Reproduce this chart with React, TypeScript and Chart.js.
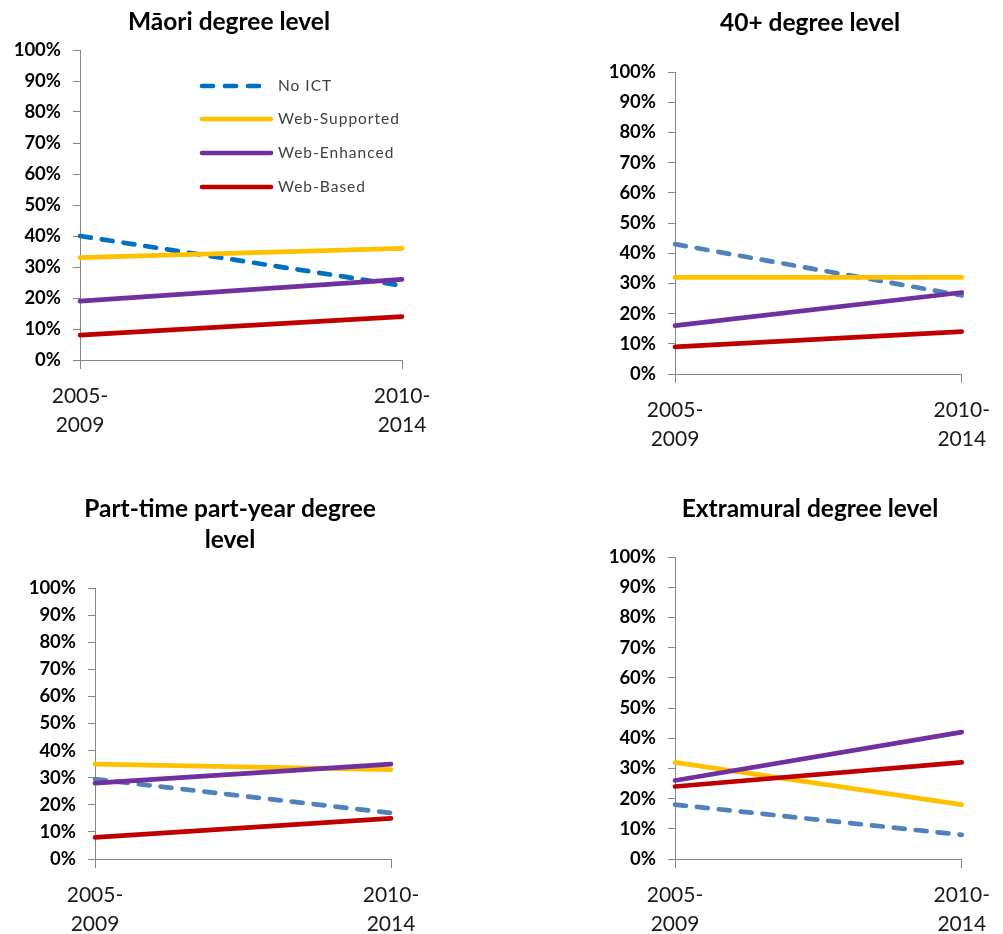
import React, { useEffect, useRef } from "react";
import { Chart, registerables } from "chart.js";

Chart.register(...registerables);

// ---------- data ----------
const categories: string[][] = [["2005-", "2009"], ["2010-", "2014"]];
const seriesNames = ["No ICT", "Web-Supported", "Web-Enhanced", "Web-Based"];
const yTickMin = 0;
const yTickMax = 100;
const yTickStep = 10;

const maoriNoICT = [40, 24];
const maoriWebSupported = [33, 36];
const maoriWebEnhanced = [19, 26];
const maoriWebBased = [8, 14];

const over40NoICT = [43, 26];
const over40WebSupported = [32, 32];
const over40WebEnhanced = [16, 27];
const over40WebBased = [9, 14];

const partTimeNoICT = [29.5, 17];
const partTimeWebSupported = [35, 33];
const partTimeWebEnhanced = [28, 35];
const partTimeWebBased = [8, 15];

const extramuralNoICT = [18, 8];
const extramuralWebSupported = [32, 18];
const extramuralWebEnhanced = [26, 42];
const extramuralWebBased = [24, 32];

const titleMaori = ["Māori degree level"];
const titleOver40 = ["40+ degree level"];
const titlePartTime = ["Part-time part-year degree", "level"];
const titleExtramural = ["Extramural degree level"];

// ---------- styles / layout ----------
const FONT = "Lato, Carlito, 'Open Sans', sans-serif";
const seriesColors = ["#4F81BD", "#FFC000", "#7030A0", "#C00000"];
const axisColor = "#868686";

type Panel = {
  title: string[];
  values: number[][];
  noIctColor: string;
  canvas: { x: number; y: number; w: number; h: number };
  plot: { l: number; t: number; r: number; b: number };
  titleCenter: { x: number; y: number };
  legend?: { x1: number; x2: number; tx: number; ys: number[] };
};

const panels: Panel[] = [
  {
    title: titleMaori,
    values: [maoriNoICT, maoriWebSupported, maoriWebEnhanced, maoriWebBased],
    noIctColor: "#0070C0",
    canvas: { x: 0, y: 0, w: 460, h: 465 },
    plot: { l: 80, t: 50, r: 402, b: 360 },
    titleCenter: { x: 229, y: 22 },
    legend: { x1: 202, x2: 271, tx: 278, ys: [86, 119, 153, 187] },
  },
  {
    title: titleOver40,
    values: [over40NoICT, over40WebSupported, over40WebEnhanced, over40WebBased],
    noIctColor: "#4F81BD",
    canvas: { x: 560, y: 0, w: 443, h: 465 },
    plot: { l: 675, t: 72, r: 972, b: 374 },
    titleCenter: { x: 810, y: 23 },
  },
  {
    title: titlePartTime,
    values: [partTimeNoICT, partTimeWebSupported, partTimeWebEnhanced, partTimeWebBased],
    noIctColor: "#4F81BD",
    canvas: { x: 0, y: 470, w: 460, h: 490 },
    plot: { l: 95, t: 588, r: 391, b: 859 },
    titleCenter: { x: 230, y: 525 },
  },
  {
    title: titleExtramural,
    values: [extramuralNoICT, extramuralWebSupported, extramuralWebEnhanced, extramuralWebBased],
    noIctColor: "#4F81BD",
    canvas: { x: 560, y: 470, w: 443, h: 490 },
    plot: { l: 675, t: 557, r: 971, b: 859 },
    titleCenter: { x: 810, y: 509 },
  },
];

const TITLE_SIZE = 24.5;
const TITLE_LH = 31;
const X_AXIS_H = 80;
const Y_AXIS_W = 78;

function ChartPanel({ panel }: { panel: Panel }) {
  const ref = useRef<HTMLCanvasElement | null>(null);

  useEffect(() => {
    if (!ref.current) return;
    const { canvas, plot, titleCenter } = panel;
    const L = plot.l - canvas.x;
    const R = plot.r - canvas.x;
    const T = plot.t - canvas.y;
    const B = plot.b - canvas.y;
    const padLeft = L - Y_AXIS_W;
    const padRight = canvas.w - R;
    const padBottom = canvas.h - B - X_AXIS_H;

    const colors = [panel.noIctColor, ...seriesColors.slice(1)];

    const datasets = seriesNames.map((name, i) => ({
      label: name,
      data: panel.values[i],
      borderColor: colors[i],
      backgroundColor: colors[i],
      borderWidth: 4.7,
      borderDash: i === 0 ? [11, 11] : [],
      borderCapStyle: "round" as const,
      pointRadius: 0,
      pointHoverRadius: 0,
      tension: 0,
      fill: false,
      clip: false as const,
      order: 4 - i,
    }));

    const titlePlugin = {
      id: "panelTitle",
      afterDraw(chart: any) {
        const ctx = chart.ctx;
        ctx.save();
        ctx.fillStyle = "#000000";
        ctx.font = `bold ${TITLE_SIZE}px ${FONT}`;
        ctx.textAlign = "center";
        ctx.textBaseline = "middle";
        const n = panel.title.length;
        const cx = titleCenter.x - canvas.x;
        const cy = titleCenter.y - canvas.y;
        panel.title.forEach((line, i) => {
          ctx.fillText(line, cx, cy + (i - (n - 1) / 2) * TITLE_LH);
        });
        ctx.restore();
      },
    };

    const legendPlugin = {
      id: "customLegend",
      afterDatasetsDraw(chart: any) {
        const lg = panel.legend;
        if (!lg) return;
        const ctx = chart.ctx;
        ctx.save();
        datasets.forEach((ds, i) => {
          const y = lg.ys[i] - canvas.y;
          ctx.beginPath();
          ctx.strokeStyle = ds.borderColor;
          ctx.lineWidth = ds.borderWidth;
          ctx.lineCap = "round";
          ctx.setLineDash(i === 0 ? [11, 12] : []);
          ctx.moveTo(lg.x1 - canvas.x, y);
          ctx.lineTo(lg.x2 - canvas.x, y);
          ctx.stroke();
          ctx.setLineDash([]);
          ctx.fillStyle = "#404040";
          ctx.font = `15.5px ${FONT}`;
          try {
            (ctx as any).letterSpacing = "1px";
          } catch (e) {}
          ctx.textBaseline = "middle";
          ctx.textAlign = "left";
          ctx.fillText(ds.label, lg.tx - canvas.x, y);
        });
        ctx.restore();
      },
    };

    const chart = new Chart(ref.current, {
      type: "line",
      data: { labels: categories, datasets },
      options: {
        responsive: false,
        animation: false,
        layout: {
          padding: { left: padLeft, right: padRight, top: T, bottom: padBottom },
        },
        plugins: {
          legend: { display: false },
          tooltip: { enabled: false },
          title: { display: false },
        },
        scales: {
          x: {
            type: "category",
            offset: false,
            grid: {
              display: true,
              drawOnChartArea: false,
              drawTicks: true,
              tickLength: 9,
              color: axisColor,
              offset: false,
            },
            border: { display: true, color: axisColor, width: 1 },
            ticks: {
              autoSkip: false,
              maxRotation: 0,
              minRotation: 0,
              padding: 13,
              color: "#1a1a1a",
              font: { family: FONT, size: 21, lineHeight: 1.36 },
            },
            afterFit: (scale: any) => {
              scale.height = X_AXIS_H;
            },
          },
          y: {
            type: "linear",
            min: yTickMin,
            max: yTickMax,
            grid: {
              display: true,
              drawOnChartArea: false,
              drawTicks: true,
              tickLength: 7,
              color: axisColor,
            },
            border: { display: true, color: axisColor, width: 1 },
            ticks: {
              stepSize: yTickStep,
              padding: 12,
              color: "#000000",
              font: { family: FONT, size: 18.5, weight: "bold" },
              callback: (v: any) => `${v}%`,
            },
            afterFit: (scale: any) => {
              scale.width = Y_AXIS_W;
            },
          },
        },
      },
      plugins: [titlePlugin, legendPlugin],
    } as any);

    return () => chart.destroy();
  }, [panel]);

  const { canvas } = panel;
  return (
    <canvas
      ref={ref}
      width={canvas.w}
      height={canvas.h}
      style={{
        position: "absolute",
        left: canvas.x,
        top: canvas.y,
        width: canvas.w,
        height: canvas.h,
      }}
    />
  );
}

export default function App() {
  return (
    <div
      style={{
        position: "absolute",
        left: 0,
        top: 0,
        width: 1003,
        height: 934,
        overflow: "hidden",
        background: "#ffffff",
      }}
    >
      {panels.map((p, i) => (
        <ChartPanel key={i} panel={p} />
      ))}
    </div>
  );
}
